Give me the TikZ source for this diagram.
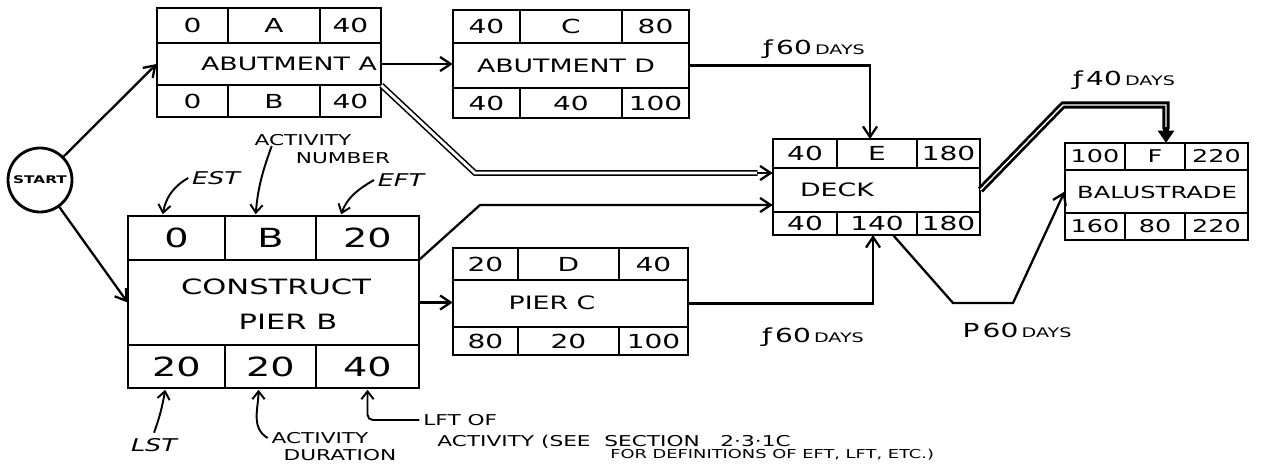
\documentclass[tikz,border=0pt]{standalone}
\usepackage{fontspec}
\setmainfont{DejaVu Sans}[FakeStretch=1.45]
\usetikzlibrary{arrows.meta}

% activity box: name, left, divider 1, divider 2, right, top, row line 1, row line 2, bottom
\newcommand{\actbox}[9]{%
  \draw[boxline] (#2,#6) rectangle (#5,#9)
    (#2,#7) -- (#5,#7) (#2,#8) -- (#5,#8)
    (#3,#6) -- (#3,#7) (#4,#6) -- (#4,#7)
    (#3,#8) -- (#3,#9) (#4,#8) -- (#4,#9);
  \node[midrow, minimum width={(#5-#2)*0.02cm}, minimum height={(#8-#7)*0.02cm}] (#1) at ({(#2+#5)/2},{(#7+#8)/2}) {};
  \coordinate (#1-1) at ({(#2+#3)/2},{(#6+#7)/2});
  \coordinate (#1-2) at ({(#3+#4)/2},{(#6+#7)/2});
  \coordinate (#1-3) at ({(#4+#5)/2},{(#6+#7)/2});
  \coordinate (#1-4) at ({(#2+#3)/2},{(#8+#9)/2});
  \coordinate (#1-5) at ({(#3+#4)/2},{(#8+#9)/2});
  \coordinate (#1-6) at ({(#4+#5)/2},{(#8+#9)/2});
  \coordinate (#1-n1) at ({(#2+#3)/2},#6);
  \coordinate (#1-n2) at ({(#3+#4)/2},#6);
  \coordinate (#1-n3) at ({(#4+#5)/2},#6);
  \coordinate (#1-s1) at ({(#2+#3)/2},#9);
  \coordinate (#1-s2) at ({(#3+#4)/2},#9);
  \coordinate (#1-s3) at ({(#4+#5)/2},#9);
}
% cell texts: name, font, EST, number, EFT, LST, duration, LFT
\newcommand{\acttext}[8]{%
  \node[cellnum, font=#2] (#1-est) at (#1-1) {#3};
  \node[cellnum, font=#2] (#1-num) at (#1-2) {#4};
  \node[cellnum, font=#2] (#1-eft) at (#1-3) {#5};
  \node[cellnum, font=#2] (#1-lst) at (#1-4) {#6};
  \node[cellnum, font=#2] (#1-dur) at (#1-5) {#7};
  \node[cellnum, font=#2] (#1-lft) at (#1-6) {#8};
}
\newcommand{\lagtext}[2]{{\fontsize{11}{11}\selectfont #1\,}{\fontsize{7.5}{7.5}\selectfont #2}}

\begin{document}
\begin{tikzpicture}[x=0.02cm, y=-0.02cm,
    boxline/.style={line width=1.5pt, line join=miter},
    midrow/.style={inner sep=0pt},
    cellnum/.style={inner sep=0pt},
    desc/.style={inner sep=0pt, font=\fontsize{10.5}{10.5}\selectfont},
    conn/.style={line width=1.3pt, -{Straight Barb[length=6pt, width=8pt, line width=1.3pt]}},
    crit/.style={line width=0.9pt, double, double distance=1.6pt},
    heavy/.style={line width=1.6pt, double, double distance=0.8pt},
    heavytip/.style={line width=3.6pt, -{Triangle[length=7pt, width=9pt]}},
    note/.style={inner sep=0pt, font=\fontsize{8.5}{8.5}\selectfont},
    notesmall/.style={inner sep=0pt, font=\fontsize{7}{7}\selectfont},
    abbr/.style={inner sep=0pt, font=\itshape\fontsize{10}{10}\selectfont},
    notearr/.style={line width=1.1pt, shorten >=1pt, -{Straight Barb[length=4.5pt, width=7pt, line width=1.1pt]}},
    lag/.style={inner sep=0pt}]
  \useasboundingbox (0,0) rectangle (1275,475);

  \node[draw, circle, line width=1.6pt, minimum size=1.28cm, inner sep=0pt,
        font=\bfseries\fontsize{6}{6}\selectfont] (start) at (40,180) {START};

  % activity boxes
  \actbox{abA}{157}{228}{320}{381}{8}{43}{85}{117}
  \acttext{abA}{\fontsize{11}{11}\selectfont}{0}{A}{40}{0}{B}{40}
  \node[desc] at (289,64) {ABUTMENT A};

  \actbox{abD}{453}{520}{622}{689}{10}{43}{88}{118}
  \acttext{abD}{\fontsize{11}{11}\selectfont}{40}{C}{80}{40}{40}{100}
  \node[desc] at (566,66) {ABUTMENT D};

  \actbox{pierB}{128}{225}{316}{419}{216}{260}{345}{388}
  \acttext{pierB}{\fontsize{15}{15}\selectfont}{0}{B}{20}{20}{20}{40}
  \node[desc, font=\fontsize{12}{12}\selectfont] at (276,287) {CONSTRUCT};
  \node[desc, font=\fontsize{12}{12}\selectfont] at (288,322) {PIER B};

  \actbox{pierC}{453}{518}{619}{688}{248}{280}{327}{355}
  \acttext{pierC}{\fontsize{11}{11}\selectfont}{20}{D}{40}{80}{20}{100}
  \node[desc] at (552,303) {PIER C};

  \actbox{deck}{773}{837}{917}{980}{139}{168}{212}{235}
  \acttext{deck}{\fontsize{11}{11}\selectfont}{40}{E}{180}{40}{140}{180}
  \node[desc] at (837,190) {DECK};

  \actbox{balF}{1065}{1125}{1185}{1248}{143}{170}{213}{240}
  \acttext{balF}{\fontsize{10}{10}\selectfont}{100}{F}{220}{160}{80}{220}
  \node[desc, font=\fontsize{9.5}{9.5}\selectfont] at (1157,192) {BALUSTRADE};

  % connectors
  \draw[conn] (start) -- (abA.west);
  \draw[conn] (start) -- (pierB.west);
  \draw[conn] (abA.east) -- (abA.east -| abD.west);

  \coordinate (kA) at (475,173);
  \coordinate (kA2) at (kA -| deck.west);
  \draw[crit] (abA.south east) -- (kA) -- ([xshift=-0.3cm]kA2);
  \draw[conn] ([xshift=-0.32cm]kA2) -- (kA2);

  \coordinate (kB) at (480,205);
  \draw[conn] (pierB.north east) -- (kB) -- (kB -| deck.west);
  \draw[conn] (pierB.east) -- (pierB.east -| pierC.west);

  \draw[conn] (abD.east) -| ([xshift=-0.14cm]deck-n2);
  \node[lag] (lagDE) at (814,49) {\lagtext{ƒ\,60}{DAYS}};

  \draw[conn] (pierC.east) -| ([xshift=-0.08cm]deck-s2);
  \node[lag] (lagCE) at (813,337) {\lagtext{ƒ\,60}{DAYS}};

  \coordinate (kP1) at (953,303);
  \coordinate (kP2) at (1013,303);
  \draw[conn] ([xshift=0.32cm]deck-s2) -- (kP1) -- (kP2) -- (balF.west);
  \node[lag] (lagEF) at (1017,330) {\lagtext{P\,60}{DAYS}};

  \coordinate (kF1) at (1063,105);
  \coordinate (kF2) at (1166,105);
  \coordinate (kF3) at (kF2 |- balF-n2);
  \draw[heavy] (deck.east) -- (kF1) -- (kF2) -- ([yshift=0.28cm]kF3);
  \draw[heavytip] ([yshift=0.32cm]kF3) -- (kF3);
  \node[lag] (lagEF2) at (1124,80) {\lagtext{ƒ\,40}{DAYS}};

  % key to the box entries
  \node[abbr] (estlbl) at (216,178) {EST};
  \node[note] (actlbl) at (303,140) {ACTIVITY};
  \node[note] (numlbl) at (343,158) {NUMBER};
  \node[abbr] (eftlbl) at (401,180) {EFT};
  \draw[notearr] ([xshift=-2pt]estlbl.west) to[out=210, in=80] ([xshift=-0.28cm]pierB-n1);
  \draw[notearr] ([xshift=0.35cm]actlbl.south west) to[out=250, in=85] ([xshift=-0.3cm]pierB-n2);
  \draw[notearr] ([xshift=-2pt]eftlbl.west) to[out=210, in=70] ([xshift=-0.54cm]pierB-n3);

  \node[abbr] (lstlbl) at (154,445) {LST};
  \node[note] (actlbl2) at (320,438) {ACTIVITY};
  \node[note] (durlbl) at (340,455) {DURATION};
  \node[note, anchor=west] (lftlbl) at (423,420) {LFT OF};
  \node[note, anchor=west] (seelbl) at (437,442) {ACTIVITY (SEE \ SECTION \ \ 2·3·1C};
  \node[notesmall, anchor=west] (forlbl) at (610,455) {FOR DEFINITIONS OF EFT, LFT, ETC.)};
  \draw[notearr] ([yshift=3pt]lstlbl.north) to[out=70, in=-100] ([xshift=-0.22cm]pierB-s1);
  \draw[notearr] ([xshift=-2pt]actlbl2.west) to[out=150, in=-90] ([xshift=-0.24cm]pierB-s2);
  \draw[notearr, rounded corners=3pt] ([xshift=-2pt]lftlbl.west) -| (pierB-s3);
\end{tikzpicture}
\end{document}
